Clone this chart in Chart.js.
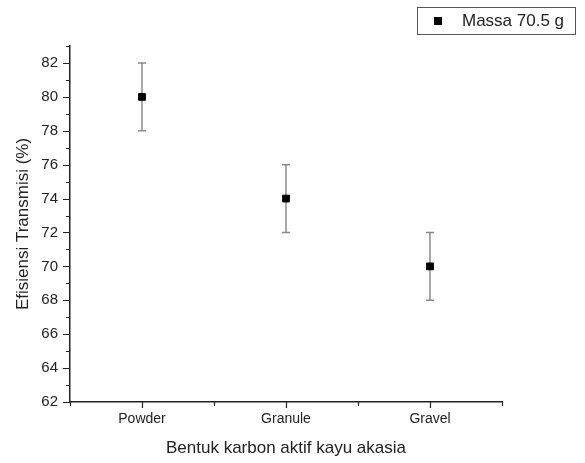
<!DOCTYPE html>
<html>
<head>
<meta charset="utf-8">
<script src="https://cdn.jsdelivr.net/npm/chart.js@4.4.1/dist/chart.umd.min.js"></script>
<style>
  html, body { margin: 0; padding: 0; background: #fff; }
  #wrap { position: relative; width: 585px; height: 463px; }
  #legend {
    position: absolute; left: 417px; top: 7px; width: 157px; height: 26px;
    border: 1px solid #555; font-family: "Liberation Sans", Arial, sans-serif;
    font-size: 17px; color: #222; line-height: 26px;
  }
  #legend .mark { position: absolute; left: 16px; top: 9px; width: 8px; height: 8px; background: #000; }
  #legend .txt { position: absolute; left: 44px; top: 0; }
</style>
</head>
<body>
<div id="wrap">
  <canvas id="chart" width="585" height="463"></canvas>
  <div id="legend"><span class="mark"></span><span class="txt">Massa 70.5 g</span></div>
</div>
<script>
const categories = ['Powder', 'Granule', 'Gravel'];
const efisiensi = [80, 74, 70];
const errBars = [2, 2, 2];
const seriesLabel = 'Massa 70.5 g';

const font = 'Liberation Sans, Arial, sans-serif';
const axisColor = '#222';

// error bars drawn through the scales
const errorBars = {
    id: 'errorBars',
    beforeDatasetsDraw(chart) {
        const { ctx, scales: { x, y } } = chart;
        ctx.save();
        ctx.strokeStyle = '#8a8a8a';
        ctx.lineWidth = 1.5;
        efisiensi.forEach((v, i) => {
            const px = x.getPixelForValue(i + 1);
            const top = y.getPixelForValue(v + errBars[i]);
            const bot = y.getPixelForValue(v - errBars[i]);
            ctx.beginPath();
            ctx.moveTo(px, top); ctx.lineTo(px, bot);
            ctx.moveTo(px - 4, top); ctx.lineTo(px + 4, top);
            ctx.moveTo(px - 4, bot); ctx.lineTo(px + 4, bot);
            ctx.stroke();
        });
        ctx.restore();
    }
};

// major / minor tick marks outside the axes
const tickMarks = {
    id: 'tickMarks',
    afterDraw(chart) {
        const { ctx, chartArea, scales: { x, y } } = chart;
        ctx.save();
        ctx.strokeStyle = axisColor;
        ctx.lineWidth = 1.2;
        ctx.beginPath();
        y.ticks.forEach(t => {
            const py = Math.round(y.getPixelForValue(t.value)) + 0.5;
            const len = t.value % 2 === 0 ? 7 : 4;
            ctx.moveTo(chartArea.left - len, py); ctx.lineTo(chartArea.left, py);
        });
        x.ticks.forEach(t => {
            const px = Math.round(x.getPixelForValue(t.value)) + 0.5;
            const len = Number.isInteger(t.value) ? 6 : 4;
            ctx.moveTo(px, chartArea.bottom); ctx.lineTo(px, chartArea.bottom + len);
        });
        ctx.stroke();
        ctx.restore();
    }
};

new Chart(document.getElementById('chart'), {
    type: 'scatter',
    data: {
        datasets: [{
            label: seriesLabel,
            data: efisiensi.map((v, i) => ({ x: i + 1, y: v })),
            pointStyle: 'rect',
            pointRadius: 4.8,
            pointHoverRadius: 4.8,
            backgroundColor: '#000',
            borderColor: '#000',
            borderWidth: 1
        }]
    },
    options: {
        responsive: false,
        animation: false,
        layout: { padding: { top: 46, right: 83, left: 0, bottom: 0 } },
        plugins: { legend: { display: false }, tooltip: { enabled: false } },
        scales: {
            x: {
                type: 'linear', min: 0.5, max: 3.5,
                afterFit: s => { s.height = 61; },
                grid: { display: true, drawOnChartArea: false, drawTicks: false, color: axisColor },
                border: { color: axisColor, width: 1.5 },
                ticks: {
                    stepSize: 0.5, padding: 9, color: '#222', autoSkip: false, maxRotation: 0,
                    font: { family: font, size: 14 },
                    callback: v => Number.isInteger(v) ? categories[v - 1] : ''
                },
                title: { display: true, text: 'Bentuk karbon aktif kayu akasia', color: '#222',
                    font: { family: font, size: 17 }, padding: { top: 0, bottom: 4 } }
            },
            y: {
                min: 62, max: 83,
                afterFit: s => { s.width = 70; },
                grid: { display: true, drawOnChartArea: false, drawTicks: false, color: axisColor },
                border: { color: axisColor, width: 1.5 },
                ticks: {
                    stepSize: 1, padding: 12, color: '#222', autoSkip: false,
                    font: { family: font, size: 15 },
                    callback: v => v % 2 === 0 ? v : ''
                },
                title: { display: true, text: 'Efisiensi Transmisi (%)', color: '#222',
                    font: { family: font, size: 17 }, padding: { top: 13, bottom: 0 } }
            }
        }
    },
    plugins: [errorBars, tickMarks]
});
</script>
</body>
</html>
